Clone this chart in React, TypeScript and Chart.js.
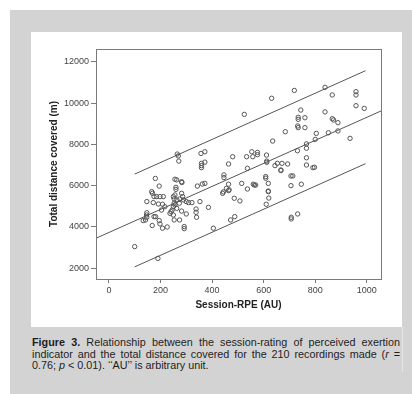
import { useEffect, useRef } from "react";
import { Chart, registerables } from "chart.js";

Chart.register(...registerables);

// Session-RPE (AU) for each recording
const sessionRpe = [
  100, 190, 180, 195, 166, 169, 175, 185, 198, 211,
  147, 172, 192, 208, 217, 204, 147, 146, 147, 175,
  181, 133, 142, 168, 195, 198, 208, 226, 241, 245,
  250, 253, 253, 250, 256, 260, 260, 256, 263, 282,
  283, 265, 269, 271, 264, 273, 275, 282, 286, 289,
  300, 309, 322, 282, 300, 253, 274, 292, 292, 263,
  338, 338, 340, 353, 343, 362, 372, 357, 372, 372,
  359, 359, 359, 386, 405, 441, 446, 446, 456, 464,
  464, 464, 480, 472, 488, 486, 508, 515, 525, 534,
  537, 537, 554, 558, 576, 576, 560, 564, 569, 611,
  612, 612, 608, 608, 618, 618, 620, 610, 631, 635,
  644, 653, 671, 667, 684, 693, 706, 707, 707, 713,
  719, 731, 732, 734, 734, 732, 734, 744, 746, 760,
  760, 766, 766, 766, 766, 791, 797, 800, 804, 838,
  838, 851, 866, 866, 871, 888, 888, 935, 958, 958,
  958, 990, 237, 256, 250, 618, 444, 466, 667, 706,
];

// Total distance covered (m) for each recording
const totalDistance = [
  3050, 2480, 6350, 5980, 5710, 5630, 5470, 5470, 5470, 5470,
  5230, 5180, 5110, 5100, 4980, 4820, 4690, 4580, 4470, 4500,
  4500, 4310, 4340, 4070, 4310, 4150, 3940, 4000, 4740, 4820,
  4980, 5150, 5360, 5470, 5550, 5820, 5920, 6310, 6280, 6190,
  6150, 7530, 7440, 7190, 5310, 5150, 5360, 5630, 5470, 5310,
  5230, 5180, 5180, 4770, 4630, 4340, 4340, 4020, 3920, 4900,
  4870, 4710, 4470, 5230, 5980, 6080, 6110, 7560, 7640, 7140,
  7080, 6970, 6870, 4950, 3940, 5630, 6520, 6390, 5870, 5760,
  6070, 7050, 7400, 4340, 4500, 5390, 5260, 6110, 9450, 7400,
  6840, 5840, 7640, 7400, 7610, 7500, 6070, 6030, 6030, 7480,
  7190, 7130, 6440, 6360, 6110, 5710, 5400, 5100, 10230, 8160,
  6970, 7080, 7080, 6760, 8610, 7050, 6000, 4470, 4390, 6470,
  10610, 7690, 4630, 9310, 9210, 8890, 8810, 9660, 6070, 9290,
  8810, 8020, 7810, 7350, 7000, 6870, 6890, 8240, 8530, 10760,
  9570, 8560, 10390, 9240, 9180, 9050, 8650, 8290, 10550, 10390,
  9870, 9740, 4660, 5070, 4580, 5740, 5700, 5800, 6730, 6470,
];

// Fitted line and upper / lower bands (end points)
const fitX = [-50, 1055];
const fitY = [3455, 9615];
const upperX = [100, 995];
const upperY = [6560, 11565];
const lowerX = [100, 995];
const lowerY = [2070, 7065];

// Axis ticks
const xTickValues = [0, 200, 400, 600, 800, 1000];
const yTickValues = [2000, 4000, 6000, 8000, 10000, 12000];

const FONT = "'Liberation Sans', Arial, Helvetica, sans-serif";
const AXIS_COLOR = "#7a7a7a";
const MARK_COLOR = "#555555";

const toPoints = (xs: number[], ys: number[]) =>
  xs.map((x, i) => ({ x, y: ys[i] }));

// Draws the closed box around the plotting area
const frameBox = {
  id: "frameBox",
  afterDraw(chart: Chart) {
    const { ctx, chartArea } = chart;
    ctx.save();
    ctx.strokeStyle = AXIS_COLOR;
    ctx.lineWidth = 1;
    ctx.strokeRect(
      Math.round(chartArea.left) + 0.5,
      Math.round(chartArea.top) + 0.5,
      Math.round(chartArea.right - chartArea.left),
      Math.round(chartArea.bottom - chartArea.top)
    );
    ctx.restore();
  },
};

function ScatterChart() {
  const canvasRef = useRef<HTMLCanvasElement | null>(null);

  useEffect(() => {
    const canvas = canvasRef.current;
    if (!canvas) return;
    const lineStyle = {
      borderColor: MARK_COLOR,
      borderWidth: 1,
      pointRadius: 0,
      showLine: true,
      fill: false,
    };
    const plainNumber = (value: number | string) => String(value);
    const chart = new Chart(canvas, {
      type: "scatter",
      data: {
        datasets: [
          { ...lineStyle, data: toPoints(fitX, fitY) },
          { ...lineStyle, data: toPoints(upperX, upperY) },
          { ...lineStyle, data: toPoints(lowerX, lowerY) },
          {
            data: toPoints(sessionRpe, totalDistance),
            pointStyle: "circle",
            pointRadius: 2.2,
            pointBorderWidth: 1,
            pointBorderColor: MARK_COLOR,
            pointBackgroundColor: "rgba(255,255,255,0)",
            showLine: false,
          },
        ],
      },
      options: {
        animation: false,
        responsive: false,
        devicePixelRatio: 1,
        layout: { padding: { top: 17, right: 21, left: 0, bottom: 0 } },
        plugins: {
          legend: { display: false },
          tooltip: { enabled: false },
        },
        scales: {
          x: {
            type: "linear",
            min: -50,
            max: 1055,
            afterBuildTicks: (scale: any) => {
              scale.ticks = xTickValues.map((value) => ({ value }));
            },
            afterFit: (scale: any) => {
              scale.height = 48;
            },
            grid: {
              display: true,
              drawOnChartArea: false,
              drawTicks: true,
              tickLength: 4,
              color: AXIS_COLOR,
            },
            border: { display: true, color: AXIS_COLOR },
            ticks: {
              autoSkip: false,
              maxRotation: 0,
              padding: 2,
              color: "#444",
              font: { family: FONT, size: 9 },
              callback: plainNumber,
            },
            title: {
              display: true,
              text: "Session-RPE (AU)",
              color: "#222",
              font: { family: FONT, size: 10, weight: "bold" },
              padding: { top: 0, bottom: 16 },
            },
          },
          y: {
            type: "linear",
            min: 1482,
            max: 12615,
            afterBuildTicks: (scale: any) => {
              scale.ticks = yTickValues.map((value) => ({ value }));
            },
            afterFit: (scale: any) => {
              scale.width = 65;
            },
            grid: {
              display: true,
              drawOnChartArea: false,
              drawTicks: true,
              tickLength: 5,
              color: AXIS_COLOR,
            },
            border: { display: true, color: AXIS_COLOR },
            ticks: {
              autoSkip: false,
              padding: 2,
              color: "#444",
              font: { family: FONT, size: 9 },
              callback: plainNumber,
            },
            title: {
              display: true,
              text: "Total distance covered (m)",
              color: "#222",
              font: { family: FONT, size: 10, weight: "bold" },
              padding: { top: 17, bottom: 0 },
            },
          },
        },
      },
      plugins: [frameBox],
    } as any);
    return () => chart.destroy();
  }, []);

  return (
    <canvas
      ref={canvasRef}
      width={371}
      height={295}
      style={{ display: "block", width: 371, height: 295 }}
    />
  );
}

const captionLine: React.CSSProperties = {
  height: 11.5,
  lineHeight: "11.5px",
  whiteSpace: "nowrap",
};

const justifiedLine: React.CSSProperties = {
  ...captionLine,
  whiteSpace: "normal",
  overflow: "visible",
  textAlign: "justify",
  textAlignLast: "justify",
};

export default function App() {
  return (
    <div
      style={{
        position: "fixed",
        left: 0,
        top: 0,
        width: 412,
        height: 394,
        background: "#ffffff",
        overflow: "hidden",
      }}
    >
      <div
        style={{
          position: "absolute",
          left: 10,
          top: 10,
          right: 0,
          bottom: 0,
          background: "#d3d3d3",
        }}
      />
      <div
        style={{
          position: "absolute",
          left: 31,
          top: 32,
          width: 371,
          height: 295,
          background: "#ffffff",
        }}
      >
        <ScatterChart />
      </div>
      <div
        style={{
          position: "absolute",
          left: 402,
          top: 327,
          width: 1,
          height: 45,
          background: "#e6e6e6",
        }}
      />
      <div
        style={{
          position: "absolute",
          left: 32,
          top: 337,
          width: 368,
          fontFamily: FONT,
          fontSize: 10.8,
          color: "#1e1e1e",
        }}
      >
        <div style={justifiedLine}>
          <b>Figure 3.</b> Relationship between the session-rating of perceived exertion
        </div>
        <div style={justifiedLine}>
          indicator and the total distance covered for the 210 recordings made (<i>r</i> =
        </div>
        <div style={captionLine}>
          0.76; <i>p</i> &lt; 0.01). ‘‘AU’’ is arbitrary unit.
        </div>
      </div>
    </div>
  );
}
